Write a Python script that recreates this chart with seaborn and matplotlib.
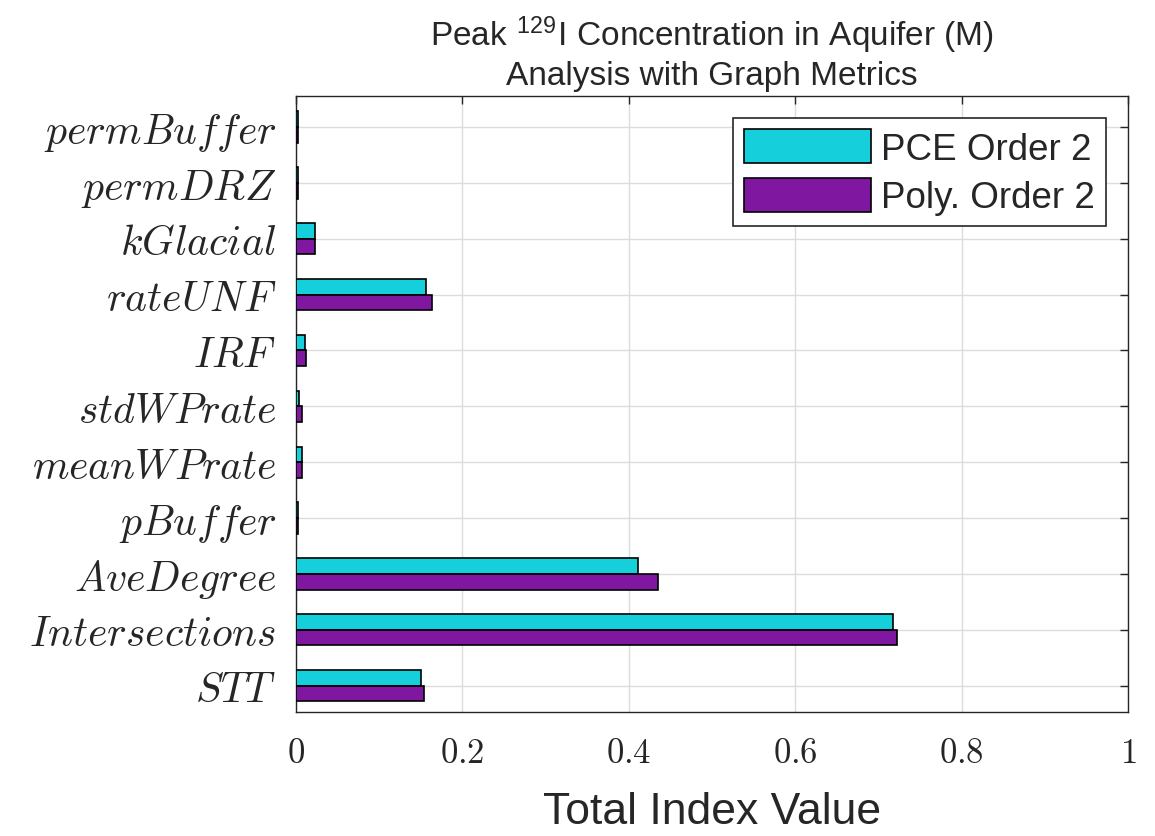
import pandas as pd
import matplotlib
matplotlib.use("Agg")
import matplotlib.pyplot as plt
import seaborn as sns
from matplotlib.ticker import FuncFormatter

# data (top to bottom)
params = ["permBuffer", "permDRZ", "kGlacial", "rateUNF", "IRF", "stdWPrate",
          "meanWPrate", "pBuffer", "AveDegree", "Intersections", "STT"]
param_labels = [r"$permBuffer$", r"$permDRZ$", r"$kGlacial$", r"$rateUNF$", r"$IRF$",
                r"$stdWPrate$", r"$meanWPrate$", r"$pBuffer$", r"$AveDegree$",
                r"$Intersections$", r"$STT$"]
pce_vals = [0.002, 0.002, 0.023, 0.156, 0.011, 0.004, 0.007, 0.002, 0.411, 0.717, 0.150]
poly_vals = [0.002, 0.002, 0.023, 0.163, 0.012, 0.007, 0.007, 0.002, 0.435, 0.722, 0.154]
series = ["PCE Order 2", "Poly. Order 2"]
colors = ["#15CFDB", "#7F17A0"]

df = pd.DataFrame({
    "param": params * 2,
    "value": pce_vals + poly_vals,
    "method": [series[0]] * len(params) + [series[1]] * len(params),
})

sns.set_style("white")
plt.rcParams["font.family"] = ["Liberation Sans", "DejaVu Sans"]
plt.rcParams["mathtext.fontset"] = "cm"

fig = plt.figure(figsize=(11.55, 8.37), dpi=100)
ax = fig.add_axes([0.2563, 0.1482, 0.7203, 0.7359])

sns.barplot(data=df, y="param", x="value", hue="method", order=params,
            hue_order=series, palette=colors, saturation=1, orient="h", width=0.56,
            edgecolor="black", linewidth=1.2, ax=ax, zorder=3)

ax.set_xlim(0, 1)
ax.set_ylim(10.47, -0.555)
ax.set_xticks([0, 0.2, 0.4, 0.6, 0.8, 1.0])
ax.xaxis.set_major_formatter(FuncFormatter(lambda v, p: "$%g$" % v))
ax.set_yticks(range(len(params)))
ax.set_yticklabels(param_labels)
ax.tick_params(axis="both", direction="in", length=6, width=1, color="#262626",
               top=True, right=True)
ax.tick_params(axis="y", labelsize=30, pad=14)
ax.tick_params(axis="x", labelsize=25, pad=17)
ax.grid(True, color="#dcdcdc", linewidth=1, zorder=0)
ax.set_axisbelow(True)
for s in ax.spines.values():
    s.set_color("#262626")
    s.set_linewidth(1)

ax.set_ylabel("")
ax.set_xlabel("Total Index Value", fontsize=32, color="#262626", labelpad=16)
ax.set_title("Peak $^{\\mathregular{129}}$I Concentration in Aquifer (M)\nAnalysis with Graph Metrics",
             fontsize=24, color="#262626", pad=9, linespacing=1.2)

leg = ax.legend(loc="upper right", fontsize=26.5, handlelength=3.45, handleheight=1.05,
                frameon=True, fancybox=False, edgecolor="#262626", framealpha=1,
                borderaxespad=0.6, borderpad=0.3, labelspacing=0.3, handletextpad=0.28)
leg.get_frame().set_linewidth(1.2)

fig.savefig("out.png", dpi=100)
